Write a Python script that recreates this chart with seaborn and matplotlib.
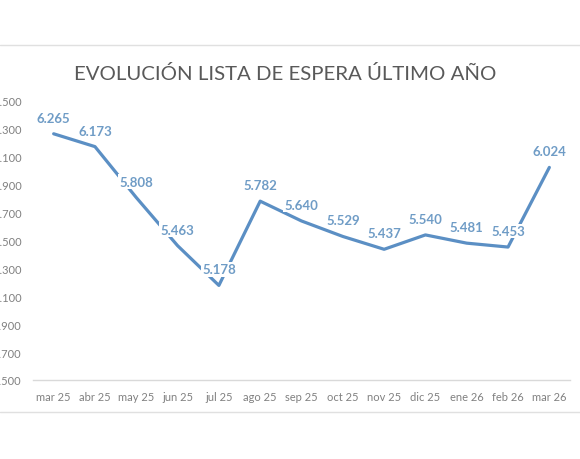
import matplotlib
matplotlib.use("Agg")
import matplotlib.pyplot as plt
import seaborn as sns
import pandas as pd
from matplotlib.lines import Line2D

# datos de la lista de espera
meses = ['mar 25', 'abr 25', 'may 25', 'jun 25', 'jul 25', 'ago 25', 'sep 25',
         'oct 25', 'nov 25', 'dic 25', 'ene 26', 'feb 26', 'mar 26']
pacientes = [6265, 6173, 5808, 5463, 5178, 5782, 5640, 5529, 5437, 5540, 5481, 5453, 6024]
y_ticks = [4500, 4700, 4900, 5100, 5300, 5500, 5700, 5900, 6100, 6300, 6500]

df = pd.DataFrame({'mes': meses, 'pacientes': pacientes})

sns.set_style('white')
plt.rcParams['font.family'] = ['Lato', 'DejaVu Sans']

azul = '#5b8fc4'
gris = '#808080'

fig = plt.figure(figsize=(5.8, 4.6), dpi=100)
ax = fig.add_axes([33 / 580, 1 - 381 / 460, (570 - 33) / 580, (381 - 102) / 460])

sns.lineplot(data=df, x='mes', y='pacientes', ax=ax, color=azul, linewidth=2.3, sort=False)

ax.set_xlim(-0.5, len(meses) - 0.5)
ax.set_ylim(4500, 6500)
ax.set_yticks(y_ticks)
ax.set_yticklabels([f'{v / 1000:.3f}' for v in y_ticks])
ax.tick_params(axis='both', length=0, labelsize=8, labelcolor=gris)
ax.tick_params(axis='y', pad=8)
ax.tick_params(axis='x', pad=8)
ax.set_xlabel('')
ax.set_ylabel('')
for s in ['top', 'right', 'left']:
    ax.spines[s].set_visible(False)
ax.spines['bottom'].set_color('#d9d9d9')
ax.spines['bottom'].set_linewidth(1)

# etiquetas de datos
for i, v in enumerate(pacientes):
    ax.annotate(f'{v / 1000:.3f}', (i, v), xytext=(0, 16), textcoords='offset pixels',
                ha='center', va='center', fontsize=9.5, fontweight='bold', color='#6f9cc6',
                bbox=dict(boxstyle='square,pad=0.1', fc='white', ec='none'))

fig.text(285 / 580, 1 - 74 / 460, 'EVOLUCIÓN LISTA DE ESPERA ÚLTIMO AÑO', ha='center', va='center',
         fontsize=14.7, color='#595959')

# líneas de separación de la captura
fig.add_artist(Line2D([0, 1], [1 - 46 / 460, 1 - 46 / 460], color='#e0e0e0', linewidth=1))
fig.add_artist(Line2D([0, 1], [1 - 413 / 460, 1 - 413 / 460], color='#e0e0e0', linewidth=1))

fig.savefig('out.png', dpi=100)
